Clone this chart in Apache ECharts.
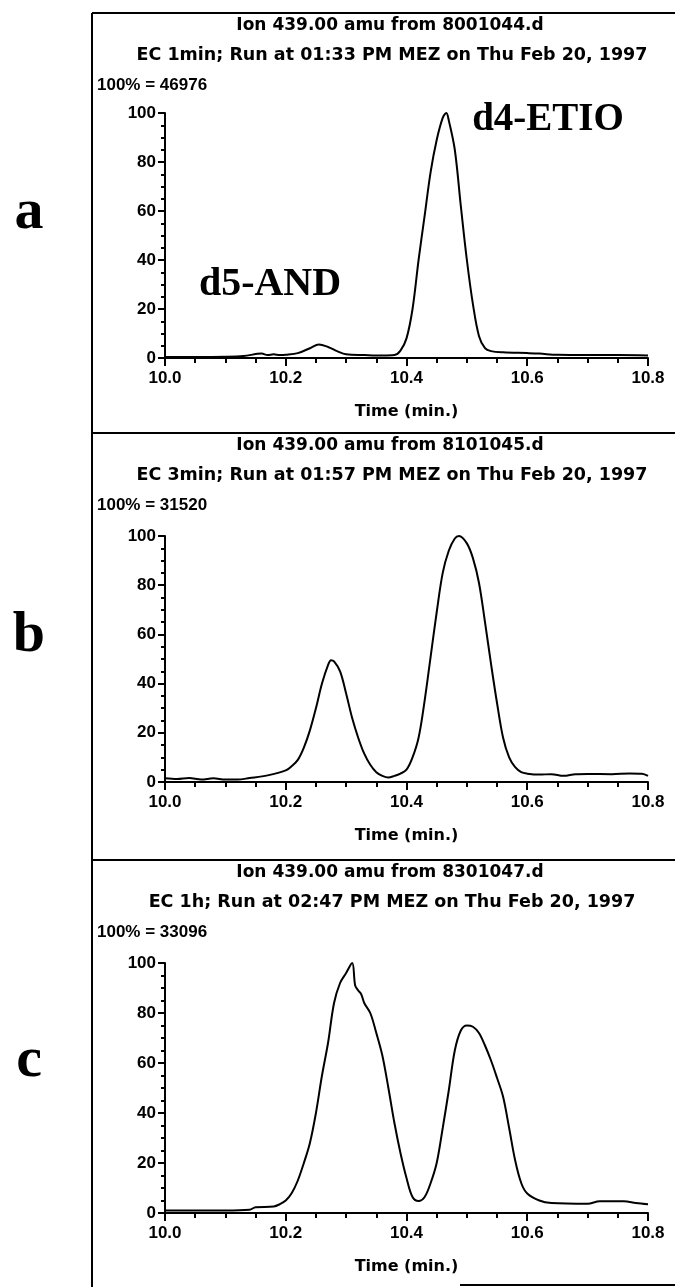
<!DOCTYPE html>
<html>
<head>
    <meta charset="UTF-8">
    <title>Ion 439.00 chromatograms</title>
    <script src="https://cdn.jsdelivr.net/npm/echarts/dist/echarts.min.js"></script>
    <style>
        html, body { margin: 0; padding: 0; background: #fff; }
        #main { width: 675px; height: 1287px; }
    </style>
</head>
<body>
    <div id="main"></div>
    <script>
        // panel a: EC 1min
        var timeA = [10.00, 10.05, 10.10, 10.13, 10.16, 10.17, 10.18, 10.19, 10.20, 10.22, 10.24, 10.255, 10.27, 10.285, 10.30, 10.33, 10.36, 10.38, 10.39, 10.40, 10.41, 10.42, 10.43, 10.44, 10.45, 10.46, 10.466, 10.47, 10.48, 10.49, 10.50, 10.51, 10.52, 10.53, 10.54, 10.56, 10.60, 10.62, 10.65, 10.70, 10.75, 10.80];
        var valA = [0.4, 0.4, 0.5, 0.8, 1.8, 1.2, 1.5, 1.2, 1.3, 2.0, 4.0, 5.5, 4.5, 2.8, 1.5, 1.2, 1.0, 1.2, 3, 8, 20, 40, 58, 76, 89, 98, 100, 97, 85, 62, 40, 22, 9, 4, 2.8, 2.3, 2.0, 1.8, 1.3, 1.2, 1.2, 1.0];

        // panel b: EC 3min
        var timeB = [10.00, 10.02, 10.04, 10.06, 10.08, 10.10, 10.12, 10.14, 10.17, 10.20, 10.21, 10.22, 10.23, 10.24, 10.25, 10.26, 10.27, 10.275, 10.28, 10.29, 10.30, 10.31, 10.32, 10.33, 10.34, 10.35, 10.36, 10.37, 10.38, 10.39, 10.40, 10.41, 10.42, 10.43, 10.44, 10.45, 10.46, 10.47, 10.48, 10.487, 10.50, 10.51, 10.52, 10.53, 10.54, 10.55, 10.56, 10.57, 10.58, 10.59, 10.60, 10.62, 10.64, 10.66, 10.68, 10.70, 10.74, 10.77, 10.79, 10.80];
        var valB = [1.5, 1.2, 1.6, 1.0, 1.5, 1.0, 1.0, 1.6, 2.7, 4.7, 6.5, 9, 14, 21, 30, 40, 47.5, 49.5, 49, 45, 36, 26, 18, 11.5, 7, 4, 2.5, 1.8, 2.5, 3.4, 5, 10, 18, 33, 51, 69, 85, 94, 99, 100, 97, 91, 81, 65, 48, 32, 18, 10, 6, 4, 3.4, 3.0, 3.2, 2.5, 3.2, 3.3, 3.2, 3.5, 3.4, 2.5];

        // panel c: EC 1h
        var timeC = [10.00, 10.05, 10.10, 10.14, 10.15, 10.18, 10.19, 10.20, 10.21, 10.22, 10.23, 10.24, 10.25, 10.26, 10.27, 10.28, 10.29, 10.30, 10.31, 10.315, 10.32, 10.325, 10.33, 10.34, 10.35, 10.36, 10.37, 10.38, 10.39, 10.40, 10.41, 10.42, 10.43, 10.44, 10.45, 10.46, 10.47, 10.48, 10.49, 10.50, 10.51, 10.52, 10.53, 10.54, 10.55, 10.56, 10.57, 10.58, 10.59, 10.60, 10.62, 10.64, 10.70, 10.72, 10.76, 10.78, 10.80];
        var valC = [1, 1, 1, 1.3, 2.3, 2.6, 3.5, 5, 8, 13, 20, 28, 40, 55, 68, 84, 92, 96, 100, 91, 89, 87.5, 84, 80, 72, 63, 50, 36, 24, 14, 6.4, 4.8, 6.4, 12, 20, 34, 49, 65, 73, 75, 74.5, 72, 67, 61, 54, 46.5, 34, 21, 12, 7.8, 5, 4, 3.7, 4.7, 4.7, 4, 3.5];

        var panelLetters = ['a', 'b', 'c'];
        var titleLines1 = ['Ion 439.00 amu from 8001044.d', 'Ion 439.00 amu from 8101045.d', 'Ion 439.00 amu from 8301047.d'];
        var titleLines2 = ['EC 1min; Run at 01:33 PM MEZ on Thu Feb 20, 1997', 'EC 3min; Run at 01:57 PM MEZ on Thu Feb 20, 1997', 'EC 1h; Run at 02:47 PM MEZ on Thu Feb 20, 1997'];
        var fullScale = ['100% = 46976', '100% = 31520', '100% = 33096'];

        var chartDom = document.getElementById('main');
        var myChart = echarts.init(chartDom, null, { renderer: 'canvas' });

        var labelFont = "'Liberation Sans', Arial, sans-serif";
        var headFont = "'DejaVu Sans', sans-serif";
        var serifFont = "'Liberation Serif', 'DejaVu Serif', serif";

        // layout of the three panels (pixel)
        var plotTop = [113, 536, 963];
        var plotHeight = [245, 246, 250];
        var panelTop = [13, 433, 860];
        var letterY = [213, 636, 1061];

        function pairs(xs, ys) {
            return xs.map(function (x, i) { return [x, ys[i]]; });
        }
        var seriesData = [pairs(timeA, valA), pairs(timeB, valB), pairs(timeC, valC)];

        var grids = [], xAxes = [], yAxes = [], series = [], graphics = [];
        for (var i = 0; i < 3; i++) {
            grids.push({ left: 165, width: 483, top: plotTop[i], height: plotHeight[i] });
            xAxes.push({
                gridIndex: i, type: 'value', min: 10, max: 10.8, interval: 0.2,
                axisLine: { show: true, onZero: false, lineStyle: { color: '#000', width: 2 } },
                axisTick: { show: true, length: 8, lineStyle: { color: '#000', width: 2 } },
                minorTick: { show: true, splitNumber: 4, length: 5, lineStyle: { color: '#000', width: 2 } },
                splitLine: { show: false },
                axisLabel: {
                    color: '#000', fontFamily: labelFont, fontWeight: 'bold', fontSize: 17, margin: 12,
                    formatter: function (v) { return v.toFixed(1); }
                },
                name: 'Time (min.)', nameLocation: 'middle', nameGap: 46,
                nameTextStyle: { color: '#000', fontFamily: headFont, fontWeight: 'bold', fontSize: 16 }
            });
            yAxes.push({
                gridIndex: i, type: 'value', min: 0, max: 100, interval: 20,
                axisLine: { show: true, lineStyle: { color: '#000', width: 2 } },
                axisTick: { show: true, length: 7, lineStyle: { color: '#000', width: 2 } },
                minorTick: { show: true, splitNumber: 4, length: 4, lineStyle: { color: '#000', width: 2 } },
                splitLine: { show: false },
                axisLabel: { color: '#000', fontFamily: labelFont, fontWeight: 'bold', fontSize: 17, margin: 9 }
            });
            series.push({
                type: 'line', xAxisIndex: i, yAxisIndex: i, data: seriesData[i],
                showSymbol: false, smooth: 0.35,
                lineStyle: { color: '#000', width: 2 }
            });

            // header texts
            graphics.push({
                type: 'text', x: 390, y: panelTop[i] + 13,
                style: { text: titleLines1[i], fill: '#000', font: 'bold 17px ' + headFont, textAlign: 'center', textVerticalAlign: 'middle' }
            });
            graphics.push({
                type: 'text', x: 392, y: panelTop[i] + 42,
                style: { text: titleLines2[i], fill: '#000', font: 'bold 17.5px ' + headFont, textAlign: 'center', textVerticalAlign: 'middle' }
            });
            graphics.push({
                type: 'text', x: 97, y: panelTop[i] + 72,
                style: { text: fullScale[i], fill: '#000', font: 'bold 17px ' + labelFont, textAlign: 'left', textVerticalAlign: 'middle' }
            });
            graphics.push({
                type: 'text', x: 29, y: letterY[i],
                style: { text: panelLetters[i], fill: '#000', font: 'bold 58px ' + serifFont, textAlign: 'center', textVerticalAlign: 'middle' }
            });
            // panel separator
            graphics.push({
                type: 'line', shape: { x1: 92, y1: panelTop[i], x2: 675, y2: panelTop[i] },
                style: { stroke: '#000', lineWidth: 2 }
            });
        }

        // frame left edge and bottom stub
        graphics.push({ type: 'line', shape: { x1: 92, y1: 13, x2: 92, y2: 1287 }, style: { stroke: '#000', lineWidth: 2 } });
        graphics.push({ type: 'line', shape: { x1: 460, y1: 1285, x2: 675, y2: 1285 }, style: { stroke: '#000', lineWidth: 2 } });

        // peak annotations in panel a
        graphics.push({
            type: 'text', x: 548, y: 120,
            style: { text: 'd4-ETIO', fill: '#000', font: 'bold 39px ' + serifFont, textAlign: 'center', textVerticalAlign: 'middle' }
        });
        graphics.push({
            type: 'text', x: 270, y: 285,
            style: { text: 'd5-AND', fill: '#000', font: 'bold 40px ' + serifFont, textAlign: 'center', textVerticalAlign: 'middle' }
        });

        var option = {
            backgroundColor: '#fff',
            animation: false,
            grid: grids,
            xAxis: xAxes,
            yAxis: yAxes,
            series: series,
            graphic: graphics
        };

        myChart.setOption(option);

        window.addEventListener('resize', function () {
            myChart.resize();
        });
    </script>
</body>
</html>
